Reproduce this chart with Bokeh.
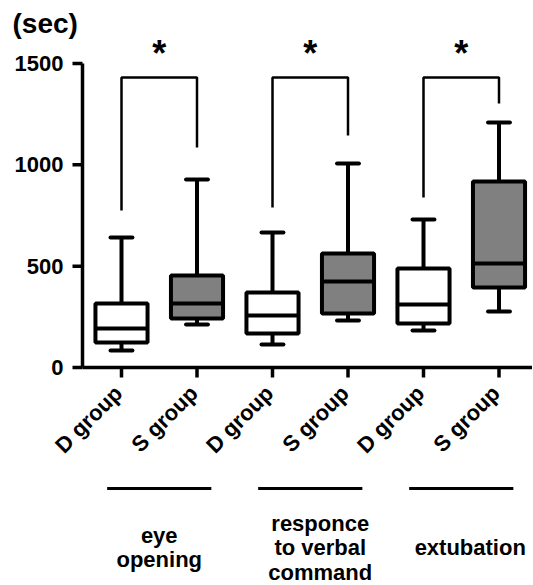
from math import pi
from bokeh.plotting import figure
from bokeh.models import ColumnDataSource
from bokeh.core.properties import value
from bokeh.embed import file_html
from bokeh.resources import INLINE

# ---------------- data ----------------
group_names = ["D group", "S group", "D group", "S group", "D group", "S group"]
condition_names = ["eye\nopening", "responce\nto verbal\ncommand", "extubation"]
whisker_low = [84, 212, 113, 232, 183, 276]
q1 = [123, 242, 168, 266, 217, 395]
median = [192, 316, 257, 424, 311, 513]
q3 = [316, 454, 370, 562, 488, 918]
whisker_high = [641, 928, 666, 1007, 730, 1209]
y_ticks = [0, 500, 1000, 1500]
y_tick_labels = ["0", "500", "1000", "1500"]
bracket_top = [1431, 1431, 1431]
bracket_left_end = [775, 789, 839]
bracket_right_end = [1085, 1145, 1303]
sig_marks = ["*", "*", "*"]
unit_label = "(sec)"

# ---------------- layout ----------------
W, H = 532, 584
PX_X = 75.5            # pixels per category step
PX_Y = 304 / 1500      # pixels per second
first_px = 121         # pixel x of first category
zero_px = 367          # pixel y of value 0
x_start = 1 - first_px / PX_X
x_end = x_start + W / PX_X
y_end = zero_px / PX_Y
y_start = -(H - zero_px) / PX_Y


def dx(px):
    return px / PX_X


def dy(px):
    return px / PX_Y


axis_x = 1 - dx(first_px - 82)
xs = list(range(1, len(group_names) + 1))
fills = ["white" if g.startswith("D") else "#808080" for g in group_names]
FONT = value("Liberation Sans")
TXT = dict(text_font=FONT, text_font_style="bold", text_color="black")

p = figure(width=W, height=H, x_range=(x_start, x_end), y_range=(y_start, y_end),
           output_backend="svg", toolbar_location=None,
           x_axis_location=None, y_axis_location=None,
           min_border_left=0, min_border_right=0, min_border_top=0, min_border_bottom=0)
p.outline_line_color = None
p.grid.visible = False
p.background_fill_color = "white"
p.border_fill_color = "white"

# y axis (drawn on the data scales)
p.segment(x0=[axis_x], y0=[y_ticks[0]], x1=[axis_x], y1=[y_ticks[-1]], line_color="black", line_width=3.5)
p.segment(x0=[axis_x - dx(10)] * len(y_ticks), y0=y_ticks, x1=[axis_x] * len(y_ticks), y1=y_ticks,
          line_color="black", line_width=3.5)
p.text(x=[axis_x - dx(19)] * len(y_ticks), y=y_ticks, text=y_tick_labels,
       text_font_size="22px", text_align="right", text_baseline="middle", **TXT)
p.text(x=[axis_x - dx(70)], y=[dy(zero_px - 22.5)], text=[unit_label],
       text_font_size="28px", text_align="left", text_baseline="middle", **TXT)

# x axis line and ticks
p.segment(x0=[axis_x], y0=[0], x1=[x_end], y1=[0], line_color="black", line_width=3.5)
p.segment(x0=xs, y0=[0] * 6, x1=xs, y1=[-dy(10)] * 6, line_color="black", line_width=3.5)

# boxes
BW = 0.69
CW = 0.145
src = ColumnDataSource(dict(x=xs, lo=whisker_low, q1=q1, med=median, q3=q3, hi=whisker_high,
                            fill=fills, xl=[x - BW / 2 for x in xs], xr=[x + BW / 2 for x in xs],
                            cl=[x - CW for x in xs], cr=[x + CW for x in xs]))
p.segment(x0="x", y0="q3", x1="x", y1="hi", source=src, line_color="black", line_width=4)
p.segment(x0="x", y0="q1", x1="x", y1="lo", source=src, line_color="black", line_width=4)
p.segment(x0="cl", y0="hi", x1="cr", y1="hi", source=src, line_color="black", line_width=4, line_cap="round")
p.segment(x0="cl", y0="lo", x1="cr", y1="lo", source=src, line_color="black", line_width=4, line_cap="round")
p.vbar(x="x", width=BW, bottom="q1", top="q3", source=src, fill_color="fill",
       line_color="black", line_width=4)
p.segment(x0="xl", y0="med", x1="xr", y1="med", source=src, line_color="black", line_width=4)

# significance brackets
bx, by = [], []
for i in range(3):
    a, b = xs[2 * i], xs[2 * i + 1]
    bx.append([a, a, b, b])
    by.append([bracket_left_end[i], bracket_top[i], bracket_top[i], bracket_right_end[i]])
p.multi_line(xs=bx, ys=by, line_color="black", line_width=2.5)
centers = [(xs[2 * i] + xs[2 * i + 1]) / 2 for i in range(3)]
p.text(x=centers, y=[t + dy(24) for t in bracket_top], text=sig_marks,
       text_font_size="36px", text_align="center", text_baseline="alphabetic", **TXT)

# rotated group labels
p.text(x=xs, y=[-dy(22)] * 6, text=group_names, angle=pi / 4, x_offset=-3,
       text_font_size="22px", text_align="right", text_baseline="middle", **TXT)

# condition lines and labels
GW = 0.69
p.segment(x0=[c - GW for c in centers], y0=[-dy(121)] * 3, x1=[c + GW for c in centers],
          y1=[-dy(121)] * 3, line_color="black", line_width=3)
p.text(x=centers, y=[-dy(180)] * 3, text=condition_names, x_offset=[0, 10, 9],
       text_font_size="22px", text_align="center", text_baseline="middle",
       text_line_height=0.98, **TXT)

open("out.html", "w").write(file_html(p, INLINE))
